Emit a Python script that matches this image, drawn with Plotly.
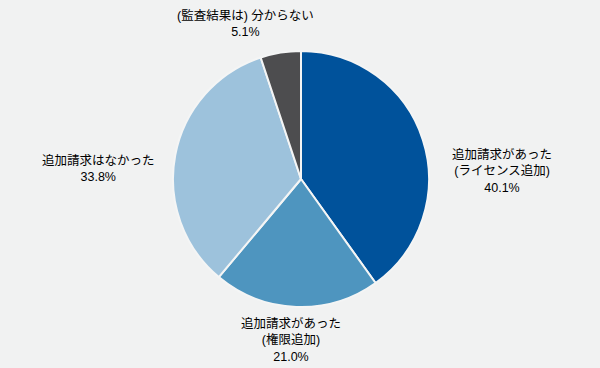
import plotly.graph_objects as go

categories = ["追加請求があった<br>(ライセンス追加)", "追加請求があった<br>(権限追加)", "追加請求はなかった", "(監査結果は) 分からない"]
values = [40.1, 21.0, 33.8, 5.1]
colors = ["#00529b", "#4e95bf", "#9dc2dc", "#4d4d4f"]

W, H = 600, 368
cx, cy, r = 301, 179, 128
# label block centres (pixels), layout only
label_pos = [(502, 171), (291, 340), (98, 168), (245, 24)]

fig = go.Figure(go.Pie(
    labels=categories,
    values=values,
    sort=False,
    direction="clockwise",
    rotation=0,
    marker=dict(colors=colors, line=dict(color="#f4f5f5", width=2)),
    textinfo="none",
    showlegend=False,
    hoverinfo="skip",
    domain=dict(x=[(cx - r) / W, (cx + r) / W], y=[(H - cy - r) / H, (H - cy + r) / H]),
))

font = dict(family="Liberation Sans, Arial, Noto Sans CJK JP", size=12.5, color="#000000")
for lab, val, (px, py) in zip(categories, values, label_pos):
    fig.add_annotation(
        x=px / W, y=1 - py / H, xref="paper", yref="paper",
        text=f"{lab}<br>{val:.1f}%", showarrow=False,
        xanchor="center", yanchor="middle", align="center", font=font,
    )

fig.update_layout(
    width=W, height=H,
    margin=dict(l=0, r=0, t=0, b=0),
    paper_bgcolor="#f1f2f2",
    plot_bgcolor="#f1f2f2",
)

fig.write_html(
    "out.html",
    config={"displayModeBar": False},
    post_script="document.body.style.margin='0';document.body.style.background='#f1f2f2';",
)
